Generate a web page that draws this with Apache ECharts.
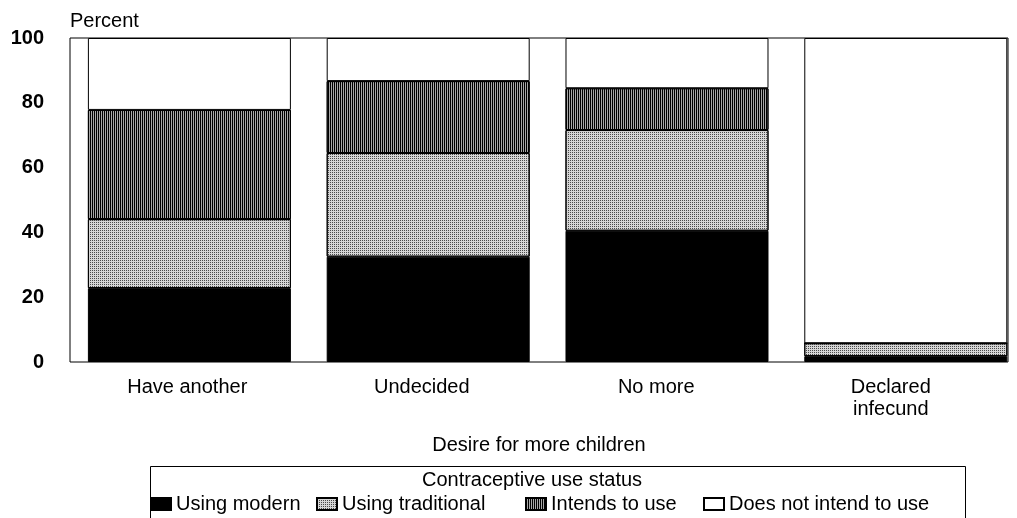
<!DOCTYPE html>
<html>
<head>
<meta charset="utf-8">
<script src="https://cdn.jsdelivr.net/npm/echarts@6/dist/echarts.min.js"></script>
<style>
  html, body { margin: 0; padding: 0; background: #fff; }
  #main { width: 1017px; height: 518px; }
</style>
</head>
<body>
<div id="main"></div>
<script>
var chartDom = document.getElementById('main');
var myChart = echarts.init(chartDom);

// data
const categories = ['Have another', 'Undecided', 'No more', 'Declared\ninfecund'];
const usingModern = [22.8, 32.5, 40.5, 1.8];
const usingTraditional = [21.3, 32.0, 31.1, 4.0];
const intendsToUse = [33.7, 22.2, 12.9, 0];
const doesNotIntend = [22.2, 13.3, 15.5, 94.2];
const yTicks = [0, 20, 40, 60, 80, 100];

const font = 'Liberation Sans, Arial, sans-serif';

// fill styles (black / stipple / vertical stripes / white)
const seriesStyles = [
    { name: 'Using modern', data: usingModern, color: '#000' },
    {
        name: 'Using traditional', data: usingTraditional, color: '#d6d6d6',
        decal: { symbol: 'rect', symbolSize: 1, dashArrayX: [1, 1], dashArrayY: [1, 1], color: '#4a4a4a' }
    },
    {
        name: 'Intends to use', data: intendsToUse, color: '#a8a8a8',
        decal: { symbol: 'rect', symbolSize: 1, dashArrayX: [1, 1], dashArrayY: [4, 0], color: '#000' }
    },
    { name: 'Does not intend to use', data: doesNotIntend, color: '#fff' }
];

// the bars in the original sit on a slightly wider pitch than the frame,
// so they go on a value axis keyed by category index.
// value comes first in each pair so the stack adds up the values
const series = seriesStyles.map(function (s) {
    var itemStyle = { color: s.color, borderColor: '#000', borderWidth: 1 };
    if (s.decal) itemStyle.decal = s.decal;
    return {
        name: s.name,
        type: 'bar',
        stack: 'total',
        xAxisIndex: 1,
        yAxisIndex: 1,
        barWidth: 203,
        itemStyle: itemStyle,
        emphasis: { disabled: true },
        encode: { x: 1, y: 0 },
        data: s.data.map(function (v, i) { return [v, i]; })
    };
});

// one legend per item so each sits where the reference has it
const legendLefts = [150, 316, 525, 703];
const legends = seriesStyles.map(function (s, i) {
    return {
        data: [s.name],
        left: legendLefts[i],
        top: 494,
        padding: 0,
        icon: 'rect',
        itemWidth: 20,
        itemHeight: 12,
        itemGap: 4,
        itemTextGap: 4,
        selectedMode: false,
        textStyle: { fontFamily: font, fontSize: 20, color: '#000' }
    };
});

var option = {
    backgroundColor: '#fff',
    animation: false,
    textStyle: { fontFamily: font },
    legend: legends,
    grid: [
        // frame + labels
        { left: 70, right: 9, top: 38, bottom: 156, show: true, borderColor: '#000', borderWidth: 1, backgroundColor: 'transparent' },
        // bars
        { left: 70, right: 9, top: 38, bottom: 156 }
    ],
    xAxis: [
        {
            type: 'category',
            gridIndex: 0,
            data: categories,
            axisLine: { show: false },
            axisTick: { show: false },
            axisLabel: { margin: 14, fontSize: 20, lineHeight: 22, color: '#000', fontFamily: font },
            name: 'Desire for more children',
            nameLocation: 'middle',
            nameGap: 73,
            nameTextStyle: { fontSize: 20, color: '#000', fontFamily: font }
        },
        {
            type: 'value',
            gridIndex: 1,
            min: -0.5,
            max: 3.428,
            show: false
        }
    ],
    yAxis: [
        {
            type: 'value',
            gridIndex: 0,
            min: yTicks[0],
            max: yTicks[yTicks.length - 1],
            interval: 20,
            axisLine: { show: false },
            axisTick: { show: false },
            splitLine: { show: false },
            axisLabel: { margin: 26, fontSize: 20, fontWeight: 'bold', color: '#000', fontFamily: font },
            name: 'Percent',
            nameLocation: 'end',
            nameGap: 7,
            nameTextStyle: { align: 'left', fontSize: 20, color: '#000', fontFamily: font }
        },
        {
            type: 'value',
            gridIndex: 1,
            min: 0,
            max: 100,
            show: false
        }
    ],
    graphic: [
        {
            type: 'rect',
            shape: { x: 150.5, y: 466.5, width: 815, height: 70 },
            style: { fill: 'none', stroke: '#000', lineWidth: 1 },
            z: 1
        },
        {
            type: 'text',
            x: 532,
            y: 470,
            style: {
                text: 'Contraceptive use status',
                fontSize: 20,
                fontFamily: font,
                fill: '#000',
                textAlign: 'center',
                textVerticalAlign: 'top'
            }
        }
    ],
    series: series
};

myChart.setOption(option);
</script>
</body>
</html>
